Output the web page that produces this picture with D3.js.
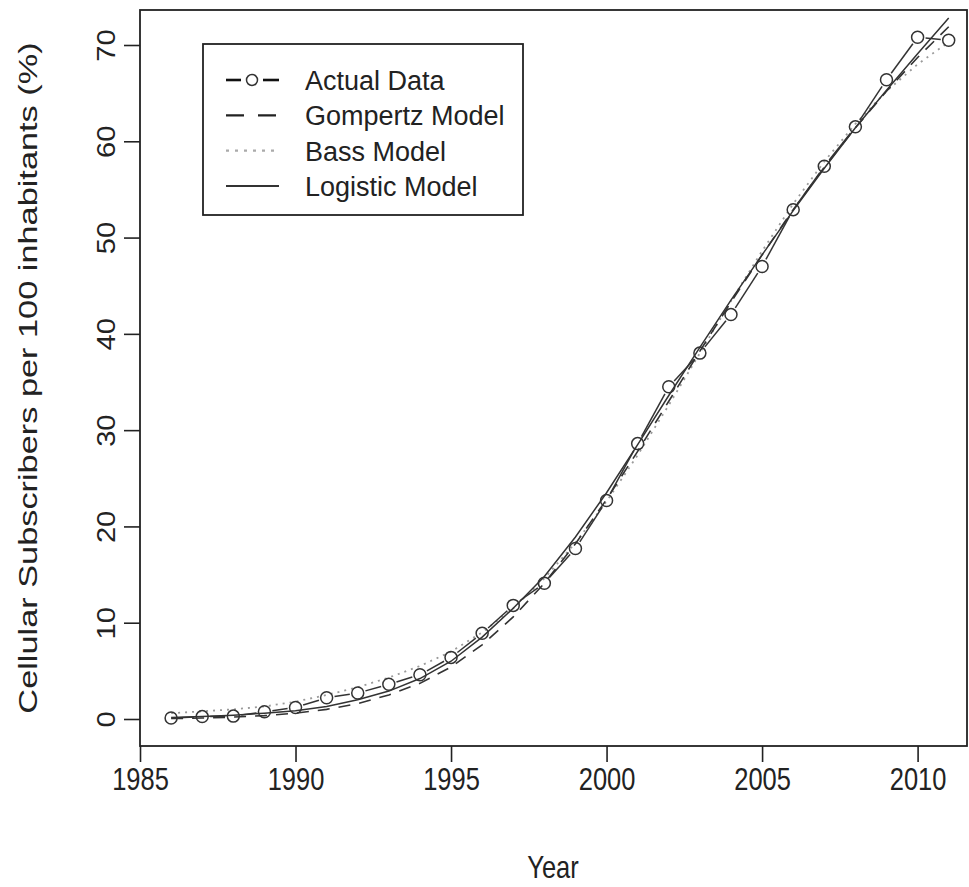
<!DOCTYPE html>
<meta charset="utf-8">
<style>
body { margin: 0; background: #fff; }
svg { display: block; }
text { font-family: "Liberation Sans", Arial, Helvetica, sans-serif; fill: #222; }
.axis path, .axis line { stroke: #222; stroke-width: 1.6px; }
</style>
<svg width="969" height="887"></svg>
<script src="https://cdn.jsdelivr.net/npm/d3@7"></script>
<script>

var years = [1986, 1987, 1988, 1989, 1990, 1991, 1992, 1993, 1994, 1995, 1996, 1997, 1998,
             1999, 2000, 2001, 2002, 2003, 2004, 2005, 2006, 2007, 2008, 2009, 2010, 2011];

var actual = [0.1, 0.25, 0.3, 0.75, 1.2, 2.2, 2.7, 3.6, 4.6, 6.4, 8.9, 11.8, 14.1,
              17.7, 22.7, 28.6, 34.5, 38.0, 42.0, 47.0, 52.9, 57.4, 61.5, 66.4, 70.8, 70.5];

var gompertz = [0.05, 0.1, 0.2, 0.35, 0.6, 1.0, 1.6, 2.5, 3.7, 5.4, 7.7, 10.6, 14.1,
                18.2, 22.8, 27.8, 33.0, 38.2, 43.3, 48.2, 52.9, 57.3, 61.4, 65.2, 68.7, 71.9];

var bass = [0.6, 0.8, 1.0, 1.3, 1.8, 2.5, 3.3, 4.3, 5.5, 7.0, 9.0, 11.5, 14.6,
            18.3, 22.6, 27.4, 32.6, 38.0, 43.4, 48.6, 53.5, 57.9, 61.8, 65.2, 68.0, 70.3];

var logistic = [0.15, 0.25, 0.4, 0.6, 0.85, 1.3, 2.0, 2.9, 4.2, 6.0, 8.5, 11.5, 14.8,
                18.9, 23.5, 28.5, 33.6, 38.6, 43.5, 48.2, 52.8, 57.2, 61.4, 65.3, 69.1, 72.8];

var xTicks = [1985, 1990, 1995, 2000, 2005, 2010];
var yTicks = [0, 10, 20, 30, 40, 50, 60, 70];

var legendLabels = ["Actual Data", "Gompertz Model", "Bass Model", "Logistic Model"];

var svg = d3.select("svg");

var box = { left: 140, right: 967, top: 10, bottom: 746 };

var x = d3.scaleLinear().domain([1985, 2010]).range([140, 917.6]);
var y = d3.scaleLinear().domain([0, 70]).range([719, 45]);

svg.append("clipPath").attr("id", "clip")
  .append("rect")
    .attr("x", box.left).attr("y", box.top)
    .attr("width", box.right - box.left).attr("height", box.bottom - box.top);

// axes
var xAxis = svg.append("g")
    .attr("class", "axis")
    .attr("transform", "translate(0," + box.bottom + ")")
    .call(d3.axisBottom(x).tickValues(xTicks).tickFormat(d3.format("d")).tickSize(16).tickSizeOuter(0));
xAxis.select(".domain").remove();
xAxis.selectAll("text")
    .attr("y", 0)
    .attr("dy", 0)
    .attr("transform", "translate(0,44) scale(0.98,1.22)")
    .style("font-size", "26px");

var yAxis = svg.append("g")
    .attr("class", "axis")
    .attr("transform", "translate(" + box.left + ",0)")
    .call(d3.axisLeft(y).tickValues(yTicks).tickSize(16).tickSizeOuter(0));
yAxis.select(".domain").remove();
yAxis.selectAll(".tick text")
    .attr("x", 0).attr("dy", 0)
    .attr("text-anchor", "middle")
    .attr("transform", "translate(-25,0) rotate(-90) scale(1.12,1)")
    .style("font-size", "26px");

// plot box
svg.append("rect")
    .attr("x", box.left).attr("y", box.top)
    .attr("width", box.right - box.left).attr("height", box.bottom - box.top)
    .attr("fill", "none")
    .attr("stroke", "#222")
    .attr("stroke-width", 1.8);

// titles
svg.append("text")
    .attr("transform", "translate(553,878) scale(0.98,1.22)")
    .attr("text-anchor", "middle")
    .style("font-size", "26px")
    .text("Year");

svg.append("text")
    .attr("transform", "translate(37,378) rotate(-90) scale(1.32,1)")
    .attr("text-anchor", "middle")
    .style("font-size", "26px")
    .text("Cellular Subscribers per 100 inhabitants (%)");

// model curves
var plot = svg.append("g").attr("clip-path", "url(#clip)");

var line = d3.line()
    .x(function(d, i) { return x(years[i]); })
    .y(function(d) { return y(d); });

plot.append("path").datum(bass)
    .attr("d", line)
    .attr("fill", "none")
    .attr("stroke", "#9a9a9a")
    .attr("stroke-width", 1.8)
    .attr("stroke-dasharray", "2,5");

plot.append("path").datum(gompertz)
    .attr("d", line)
    .attr("fill", "none")
    .attr("stroke", "#333")
    .attr("stroke-width", 1.6)
    .attr("stroke-dasharray", "12,9");

plot.append("path").datum(logistic)
    .attr("d", line)
    .attr("fill", "none")
    .attr("stroke", "#333")
    .attr("stroke-width", 1.5);

// actual data, drawn as points joined by segments with gaps
var r = 6, gap = r + 2;
var segs = [];
for (var i = 0; i < years.length - 1; i++) {
  var x0 = x(years[i]), y0 = y(actual[i]), x1 = x(years[i + 1]), y1 = y(actual[i + 1]);
  var len = Math.hypot(x1 - x0, y1 - y0);
  if (len > 2 * gap) {
    var ux = (x1 - x0) / len, uy = (y1 - y0) / len;
    segs.push([x0 + ux * gap, y0 + uy * gap, x1 - ux * gap, y1 - uy * gap]);
  }
}
plot.selectAll(".seg")
  .data(segs)
  .enter().append("line")
    .attr("class", "seg")
    .attr("x1", function(d) { return d[0]; })
    .attr("y1", function(d) { return d[1]; })
    .attr("x2", function(d) { return d[2]; })
    .attr("y2", function(d) { return d[3]; })
    .attr("stroke", "#333")
    .attr("stroke-width", 1.5);

plot.selectAll(".pt")
  .data(actual)
  .enter().append("circle")
    .attr("class", "pt")
    .attr("cx", function(d, i) { return x(years[i]); })
    .attr("cy", function(d) { return y(d); })
    .attr("r", r)
    .attr("fill", "none")
    .attr("stroke", "#333")
    .attr("stroke-width", 1.5);

// legend
var legend = svg.append("g");
legend.append("rect")
    .attr("x", 203).attr("y", 44)
    .attr("width", 320).attr("height", 171)
    .attr("fill", "#fff")
    .attr("stroke", "#222")
    .attr("stroke-width", 1.8);

var rowY = d3.scalePoint().domain(legendLabels).range([80, 186]);
var styles = [
  { stroke: "#111", width: 2.6, dash: null },
  { stroke: "#222", width: 2.4, dash: "18,14" },
  { stroke: "#aaa", width: 2.2, dash: "3,6" },
  { stroke: "#333", width: 2.2, dash: null }
];

legendLabels.forEach(function(name, i) {
  var yy = rowY(name), s = styles[i];
  if (i === 0) {
    legend.append("line").attr("x1", 226).attr("x2", 241).attr("y1", yy).attr("y2", yy)
        .attr("stroke", s.stroke).attr("stroke-width", s.width);
    legend.append("line").attr("x1", 263).attr("x2", 279).attr("y1", yy).attr("y2", yy)
        .attr("stroke", s.stroke).attr("stroke-width", s.width);
    legend.append("circle").attr("cx", 252).attr("cy", yy).attr("r", 5.5)
        .attr("fill", "none").attr("stroke", "#333").attr("stroke-width", 1.5);
  } else {
    legend.append("line").attr("x1", 226).attr("x2", 279).attr("y1", yy).attr("y2", yy)
        .attr("stroke", s.stroke).attr("stroke-width", s.width)
        .attr("stroke-dasharray", s.dash);
  }
  legend.append("text")
      .attr("x", 305).attr("y", yy + 10)
      .style("font-size", "27px")
      .text(name);
});

</script>
